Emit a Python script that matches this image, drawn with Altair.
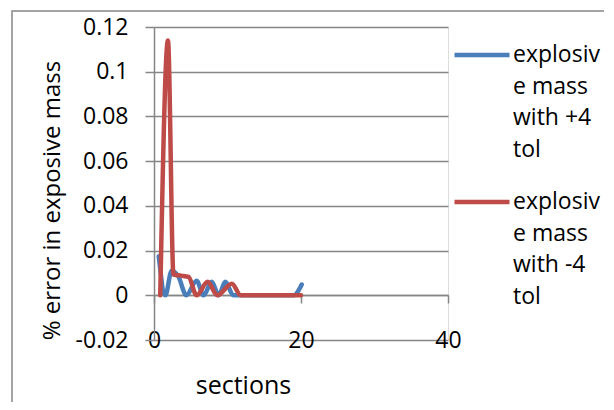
import altair as alt
import pandas as pd

# ---- data ----
blue_name = "explosive mass with +4 tol"
red_name = "explosive mass with -4 tol"

blue_x = [0.65, 1.55, 2.4, 3.3, 4.4, 5.8, 6.75, 7.85, 8.8, 9.7, 10.8, 12, 13, 14, 15, 16, 17, 18, 19, 20.1]
blue_y = [0.0175, 0.0, 0.011, 0.0085, 0.0, 0.0065, 0.0, 0.006, 0.0, 0.006, 0.0, 0.0, 0.0, 0.0, 0.0, 0.0, 0.0, 0.0, 0.0, 0.0048]

red_x = [0.85, 1.9, 2.65, 3.7, 4.7, 5.8, 7.3, 8.6, 10.6, 11.8, 13, 14, 15, 16, 17, 18, 19, 20]
red_y = [0.0, 0.114, 0.0093, 0.0088, 0.0082, 0.0, 0.006, 0.0, 0.0052, 0.0, 0.0, 0.0, 0.0, 0.0, 0.0, 0.0, 0.0, 0.0]

y_ticks = [-0.02, 0.0, 0.02, 0.04, 0.06, 0.08, 0.1, 0.12]
x_ticks = [0, 20, 40]

series_names = [blue_name, red_name]
series_colors = ["#4A7EBB", "#BE4B48"]

rows = []
for i, (x, y) in enumerate(zip(blue_x, blue_y)):
    rows.append({"series": blue_name, "order": i, "x": x, "y": y})
for i, (x, y) in enumerate(zip(red_x, red_y)):
    rows.append({"series": red_name, "order": i, "x": x, "y": y})
df = pd.DataFrame(rows)

FONT = "Open Sans"
FS = 23
GRID = "#868686"

x_scale = alt.Scale(domain=[0, 40], nice=False, zero=False)
y_scale = alt.Scale(domain=[-0.02, 0.12], nice=False, zero=False)

lines = alt.Chart(df).mark_line(
    interpolate="monotone", strokeWidth=4.5, strokeCap="round", strokeJoin="round"
).encode(
    x=alt.X(
        "x:Q",
        scale=x_scale,
        axis=alt.Axis(
            values=x_ticks,
            offset=-45,
            domain=True,
            domainColor=GRID,
            domainWidth=1.5,
            ticks=True,
            tickColor=GRID,
            tickSize=8,
            tickWidth=1.5,
            grid=False,
            labelFlush=False,
            labelOverlap=False,
            labelBaseline="middle",
            labelPadding=37,
            labelFont=FONT,
            labelFontSize=FS,
            labelColor="black",
            title="sections",
            titleFont=FONT,
            titleFontSize=25,
            titleFontWeight="normal",
            titleColor="black",
            titleX=89,
            titleY=98,
            titleBaseline="alphabetic",
            titleAlign="center",
        ),
    ),
    y=alt.Y(
        "y:Q",
        scale=y_scale,
        axis=alt.Axis(
            values=y_ticks,
            domain=True,
            domainColor=GRID,
            domainWidth=1.5,
            ticks=True,
            tickColor=GRID,
            tickSize=9,
            tickWidth=1.5,
            grid=True,
            gridColor=GRID,
            gridWidth=1.5,
            gridOpacity=1,
            labelFlush=False,
            labelOverlap=False,
            labelPadding=17,
            labelFont=FONT,
            labelFontSize=FS,
            labelColor="black",
            labelExpr="datum.value < 0 ? '-' + format(-datum.value, '.2~f') : format(datum.value, '.2~f')",
            title="% error in exposive mass",
            titleFont=FONT,
            titleFontSize=24,
            titleFontWeight="normal",
            titleColor="black",
            titleAngle=270,
            titleX=-102,
            titleY=173,
            titleBaseline="middle",
            titleAlign="center",
        ),
    ),
    color=alt.Color(
        "series:N",
        scale=alt.Scale(domain=series_names, range=series_colors),
        legend=alt.Legend(
            orient="none",
            legendX=298,
            legendY=-2,
            title=None,
            symbolType="stroke",
            symbolSize=3025,
            symbolStrokeWidth=4.5,
            labelFont=FONT,
            labelFontSize=FS,
            labelColor="black",
            labelOffset=1,
            labelBaseline="middle",
            labelLimit=200,
            rowPadding=10,
            labelExpr="[slice(datum.label,0,8), slice(datum.label,8,14), slice(datum.label,15,22), slice(datum.label,23)]",
        ),
    ),
    order="order:Q",
)

frame = alt.Chart(alt.Data(values=[{}])).mark_rect(
    fill=None, stroke=GRID, strokeWidth=1.5
).encode(
    x=alt.value(-142), x2=alt.value(480), y=alt.value(-16), y2=alt.value(420)
)

chart = alt.layer(frame, lines).properties(
    width=294,
    height=313,
    padding={"left": 146, "top": 19, "right": 156, "bottom": 62},
    autosize=alt.AutoSizeParams(type="none"),
).configure_view(stroke=None).configure(
    style={"guide-label": {"lineHeight": 31.5}}
)

chart.save("out.html", embed_options={"renderer": "svg", "actions": False})
